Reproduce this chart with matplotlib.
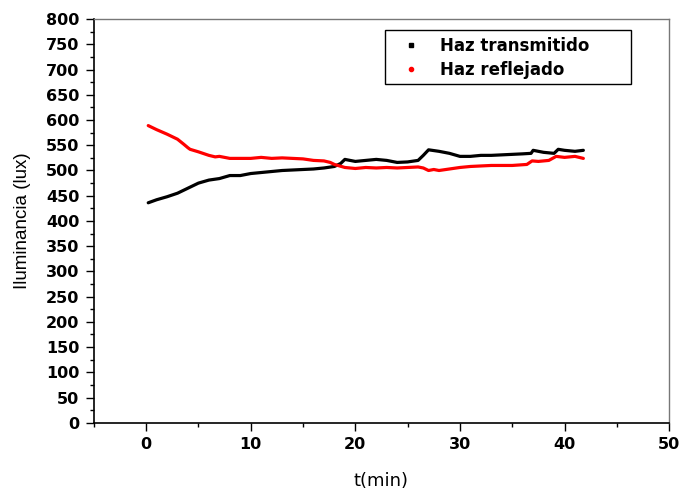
import matplotlib
matplotlib.use("Agg")
import matplotlib.pyplot as plt
from matplotlib.lines import Line2D
from matplotlib.patches import Rectangle
from matplotlib.ticker import MultipleLocator

# Data
t_trans = [0.2, 1.0, 2.0, 3.0, 4.0, 5.0, 6.0, 7.0, 8.0, 9.0, 10.0, 11.0, 12.0, 13.0,
           14.0, 15.0, 16.0, 17.0, 18.0, 18.6, 19.0, 20.0, 21.0, 22.0, 23.0, 24.0,
           25.0, 26.0, 26.5, 27.0, 28.0, 29.0, 30.0, 31.0, 32.0, 33.0, 34.0, 35.0,
           36.0, 36.8, 37.0, 38.0, 39.0, 39.4, 40.0, 41.0, 41.8]
v_trans = [436, 442, 448, 455, 465, 475, 481, 484, 490, 490, 494, 496, 498, 500,
           501, 502, 503, 505, 508, 514, 522, 518, 520, 522, 520, 516, 517, 520,
           530, 541, 538, 534, 528, 528, 530, 530, 531, 532, 533, 534, 540, 536,
           534, 542, 540, 538, 540]

t_refl = [0.2, 1.0, 2.0, 3.0, 3.6, 4.0, 4.2, 5.0, 6.0, 6.6, 7.0, 8.0, 9.0, 10.0,
          11.0, 12.0, 13.0, 14.0, 15.0, 16.0, 17.0, 17.6, 18.0, 19.0, 20.0, 21.0,
          22.0, 23.0, 24.0, 25.0, 26.0, 26.5, 27.0, 27.5, 28.0, 29.0, 30.0, 31.0,
          32.0, 33.0, 34.0, 35.0, 36.4, 36.9, 37.5, 38.5, 39.2, 40.0, 41.0, 41.8]
v_refl = [589, 581, 572, 562, 552, 545, 542, 537, 530, 527, 528, 524, 524, 524,
          526, 524, 525, 524, 523, 520, 519, 516, 512, 506, 504, 506, 505, 506,
          505, 506, 507, 505, 500, 502, 500, 503, 506, 508, 509, 510, 510, 510,
          512, 519, 518, 520, 528, 526, 528, 524]

x_ticks = [0, 10, 20, 30, 40, 50]
y_ticks = list(range(0, 801, 50))
label_trans = "Haz transmitido"
label_refl = "Haz reflejado"

plt.rcParams['font.family'] = ['DejaVu Sans']

fig = plt.figure(figsize=(6.8, 4.91), dpi=100)
ax = fig.add_axes([0.138, 0.139, 0.846, 0.822])

ax.plot(t_trans, v_trans, color='black', lw=2.3, solid_joinstyle='round',
        solid_capstyle='round')
ax.plot(t_refl, v_refl, color='red', lw=2.3, solid_joinstyle='round',
        solid_capstyle='round')

ax.set_xlim(-5, 50)
ax.set_ylim(0, 800)
ax.set_xticks(x_ticks)
ax.set_yticks(y_ticks)
ax.xaxis.set_minor_locator(MultipleLocator(5))
ax.yaxis.set_minor_locator(MultipleLocator(25))
ax.tick_params(which='major', direction='out', length=5.5, width=1,
               labelsize=11.5, top=False, right=False, pad=5)
ax.tick_params(which='minor', direction='out', length=3, width=1,
               top=False, right=False)
for lab in ax.get_xticklabels() + ax.get_yticklabels():
    lab.set_fontweight('bold')

for s in ['left', 'bottom']:
    ax.spines[s].set_color('black')
    ax.spines[s].set_linewidth(1.2)
for s in ['top', 'right']:
    ax.spines[s].set_color('#777777')
    ax.spines[s].set_linewidth(1.0)

ax.set_xlabel('t(min)', fontsize=13, labelpad=14)
ax.set_ylabel('Iluminancia (lux)', fontsize=13.5, labelpad=11,
              family='Liberation Sans')

# legend frame drawn as a plain rectangle in axes coordinates
ax.add_patch(Rectangle((0.506, 0.839), 0.428, 0.134, transform=ax.transAxes,
                       facecolor='white', edgecolor='black', lw=1.0, zorder=4))
handles = [Line2D([], [], color='black', marker='s', ms=3.5, lw=0),
           Line2D([], [], color='red', marker='o', ms=3, lw=0)]
leg = ax.legend(handles, [label_trans, label_refl], loc='upper left',
                bbox_to_anchor=(0.506, 0.973), frameon=False,
                prop={'weight': 'bold', 'size': 12},
                handlelength=2.31, handletextpad=0.58, borderpad=0.4,
                labelspacing=0.38, borderaxespad=0)
leg.set_zorder(5)

fig.savefig('out.png', dpi=100)
